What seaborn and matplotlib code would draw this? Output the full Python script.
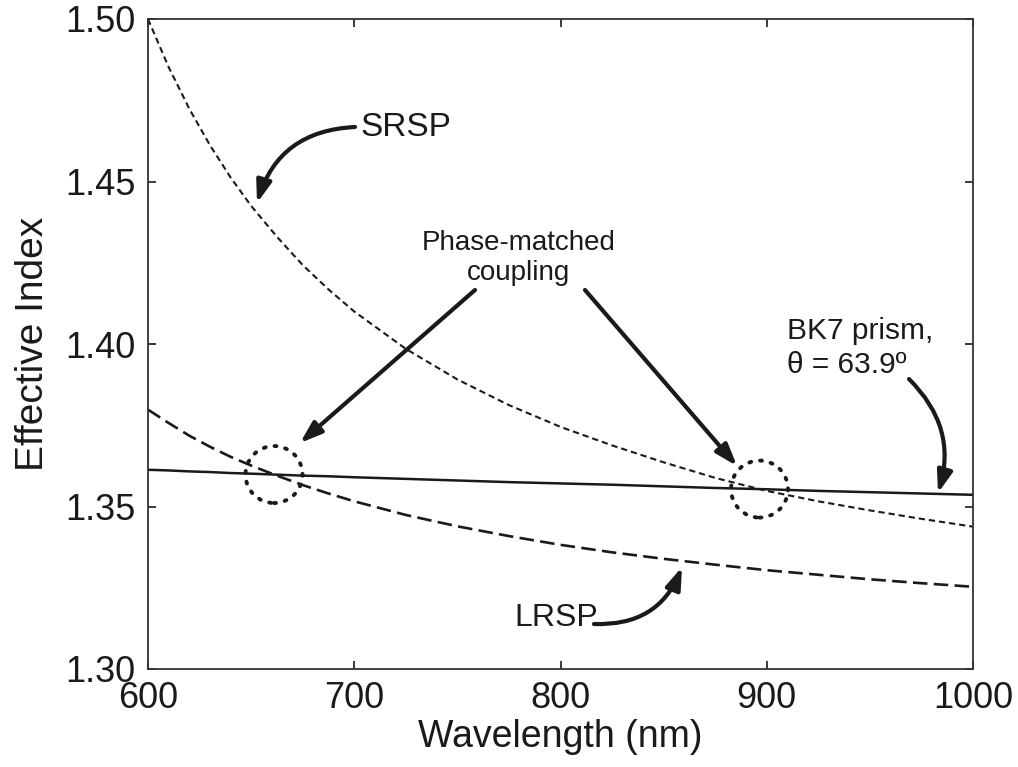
import numpy as np
import pandas as pd
import matplotlib
matplotlib.use("Agg")
import matplotlib.pyplot as plt
import seaborn as sns
from matplotlib.patches import Ellipse

# ---- data ----
wavelength = [600, 610, 620, 630, 640, 650, 662.5, 675, 687.5, 700, 725, 750, 775, 800, 825,
              850, 875, 900, 925, 950, 975, 1000]
srsp = [1.500, 1.4852, 1.4724, 1.4612, 1.4513, 1.4425, 1.4330, 1.4243, 1.4168, 1.4100,
        1.3985, 1.3891, 1.3812, 1.3745, 1.3688, 1.3636, 1.3588, 1.3548, 1.3516, 1.3488,
        1.3462, 1.3438]
lrsp = [1.3798, 1.3757, 1.3718, 1.3684, 1.3653, 1.3626, 1.3595, 1.3566, 1.3540, 1.3516,
        1.3474, 1.3439, 1.3409, 1.3382, 1.3359, 1.3339, 1.3321, 1.3304, 1.3290, 1.3276,
        1.3264, 1.3253]
bk7 = [1.3613, 1.3611, 1.3608, 1.3606, 1.3603, 1.3601, 1.3598, 1.3595, 1.3593, 1.3590,
       1.3585, 1.3580, 1.3575, 1.3571, 1.3567, 1.3562, 1.3557, 1.3553, 1.3548, 1.3544,
       1.3540, 1.3536]
x_ticks = [600, 700, 800, 900, 1000]
y_ticks = [1.30, 1.35, 1.40, 1.45, 1.50]
x_label = "Wavelength (nm)"
y_label = "Effective Index"

df = pd.DataFrame({"wavelength": wavelength, "SRSP": srsp, "LRSP": lrsp, "BK7": bk7})

sns.set_theme(style="ticks")
plt.rcParams["font.family"] = ["Liberation Sans", "DejaVu Sans"]

fig = plt.figure(figsize=(10.18, 7.67), dpi=100)
ax = fig.add_axes([148 / 1018, 1 - 669 / 767, (973 - 148) / 1018, (669 - 19) / 767])

ink = "#1a1a1a"
sns.lineplot(data=df, x="wavelength", y="SRSP", ax=ax, color=ink, lw=1.5,
             linestyle=(0, (3.0, 1.9)))
sns.lineplot(data=df, x="wavelength", y="LRSP", ax=ax, color=ink, lw=1.9,
             linestyle=(0, (5.5, 2.4)))
sns.lineplot(data=df, x="wavelength", y="BK7", ax=ax, color=ink, lw=1.8)

ax.set_xlim(600, 1000)
ax.set_ylim(1.30, 1.50)
ax.set_xticks(x_ticks)
ax.set_yticks(y_ticks)
ax.set_yticklabels([f"{v:.2f}" for v in y_ticks])
ax.set_xticklabels([str(v) for v in x_ticks])
ax.tick_params(direction="in", length=6, width=1.2, top=True, right=True,
               labelsize=26, colors=ink)
ax.tick_params(axis="x", pad=9)
ax.tick_params(axis="y", pad=9)
ax.set_xlabel(x_label, fontsize=27, color=ink, labelpad=2)
ax.set_ylabel(y_label, fontsize=28, color=ink, labelpad=10)
for s in ax.spines.values():
    s.set_visible(True)
    s.set_linewidth(1.3)
    s.set_color("#333333")


def P(px, py):
    """annotation anchor given in reference-image pixels -> data coords"""
    return (600 + (px - 148) * 400 / 825, 1.5 - (py - 19) * 0.2 / 650)


# phase-matched points: crossings with the BK7 line
wl = np.array(wavelength, dtype=float)
fine = np.linspace(600, 1000, 4001)
b = np.interp(fine, wl, bk7)


def crossing(series):
    d = np.interp(fine, wl, series) - b
    i = np.where(np.diff(np.sign(d)) != 0)[0][0]
    return fine[i], b[i]


c1 = crossing(lrsp)
c2 = crossing(srsp)

px_x = 400 / 825
px_y = 0.20 / 650
for c in (c1, c2):
    ax.add_patch(Ellipse(c, width=2 * 28.5 * px_x, height=2 * 28.5 * px_y, fill=False,
                         edgecolor=ink, lw=2.8, linestyle=(0, (0.5, 2.3)),
                         capstyle="round"))

arrow = dict(arrowstyle="-|>,head_length=1.1,head_width=0.38", color=ink, lw=3.0,
             shrinkA=0, shrinkB=0)

# SRSP label
ax.text(*P(360, 128), "SRSP", fontsize=24, color=ink, ha="left", va="center")
ax.annotate("", xy=P(257, 203), xytext=P(355, 127),
            arrowprops=dict(arrow, connectionstyle="arc3,rad=0.35"))

# Phase-matched coupling
ax.text(*P(519, 258), "Phase-matched\ncoupling", fontsize=20, color=ink, ha="center",
        va="center", linespacing=1.25)
ax.annotate("", xy=P(300, 443), xytext=P(475, 290), arrowprops=arrow)
ax.annotate("", xy=P(737, 466), xytext=P(585, 290), arrowprops=arrow)

# BK7 prism
ax.text(*P(787, 348), "BK7 prism,\n\u03b8 = 63.9\u00ba", fontsize=21.5, color=ink,
        ha="left", va="center", linespacing=1.3)
ax.annotate("", xy=P(938, 493), xytext=P(909, 379),
            arrowprops=dict(arrow, connectionstyle="arc3,rad=-0.3"))

# LRSP label
ax.text(*P(514, 618), "LRSP", fontsize=23, color=ink, ha="left", va="center")
ax.annotate("", xy=P(682, 567), xytext=P(594, 624),
            arrowprops=dict(arrow, connectionstyle="arc3,rad=0.35"))

fig.savefig("out.png", dpi=100)
